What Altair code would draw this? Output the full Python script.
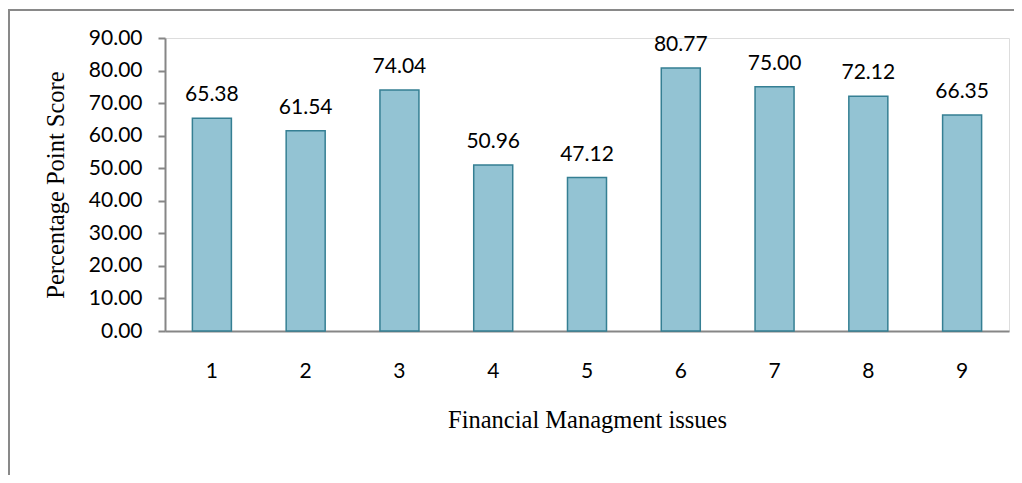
import altair as alt
import pandas as pd

issues = ["1", "2", "3", "4", "5", "6", "7", "8", "9"]
scores = [65.38, 61.54, 74.04, 50.96, 47.12, 80.77, 75.00, 72.12, 66.35]
y_ticks = [0, 10, 20, 30, 40, 50, 60, 70, 80, 90]

df = pd.DataFrame({"issue": issues, "score": scores})

W, H = 844, 293

x_enc = alt.X(
    "issue:N",
    sort=issues,
    scale=alt.Scale(paddingInner=0.584, paddingOuter=0.292),
    axis=alt.Axis(
        title="Financial Managment issues",
        labelAngle=0,
        ticks=False,
        labelPadding=46,
        labelBaseline="alphabetic",
        labelFont="Lato",
        labelFontSize=21,
        labelColor="#000000",
        domainColor="#868686",
        domainWidth=2,
        titleFont="Liberation Serif",
        titleFontSize=24.5,
        titleFontWeight="normal",
        titleColor="#000000",
        titleBaseline="alphabetic",
        titleY=96,
        titleX=W / 2,
        titleAlign="center",
    ),
)

y_enc = alt.Y(
    "score:Q",
    scale=alt.Scale(domain=[0, 90], nice=False),
    axis=alt.Axis(
        title="Percentage Point Score",
        values=y_ticks,
        format=".2f",
        grid=False,
        labelOverlap=False,
        labelFlush=False,
        labelBound=False,
        tickSize=7,
        tickColor="#868686",
        tickWidth=2,
        labelPadding=16,
        labelFont="Lato",
        labelFontSize=21,
        labelColor="#000000",
        domainColor="#868686",
        domainWidth=2,
        titleFont="Liberation Serif",
        titleFontSize=24.5,
        titleFontWeight="normal",
        titleColor="#000000",
        titleAngle=270,
        titleBaseline="alphabetic",
        titleAlign="center",
        titleX=-102,
        titleY=H / 2,
    ),
)

frame = alt.Chart(pd.DataFrame({"f": [0]})).mark_rect(
    fill="transparent", stroke="#898989", strokeWidth=2
).encode(
    x=alt.value(-156), x2=alt.value(1000), y=alt.value(-28), y2=alt.value(600)
)

base = alt.Chart(df).encode(x=x_enc, y=y_enc)

bars = base.mark_bar(fill="#93C3D3", stroke="#357F93", strokeWidth=1.5)

labels = base.mark_text(
    font="Lato", fontSize=21, color="#000000", baseline="alphabetic", dy=-17
).encode(text=alt.Text("score:Q", format=".2f"))

chart = alt.layer(frame, bars, labels).properties(
    width=W,
    height=H,
    autosize=alt.AutoSizeParams(type="none"),
    padding={"left": 157, "top": 30, "right": 5, "bottom": 144},
).configure_view(stroke=None).configure(background="white")

chart.save("out.html", embed_options={"renderer": "svg", "actions": False})
